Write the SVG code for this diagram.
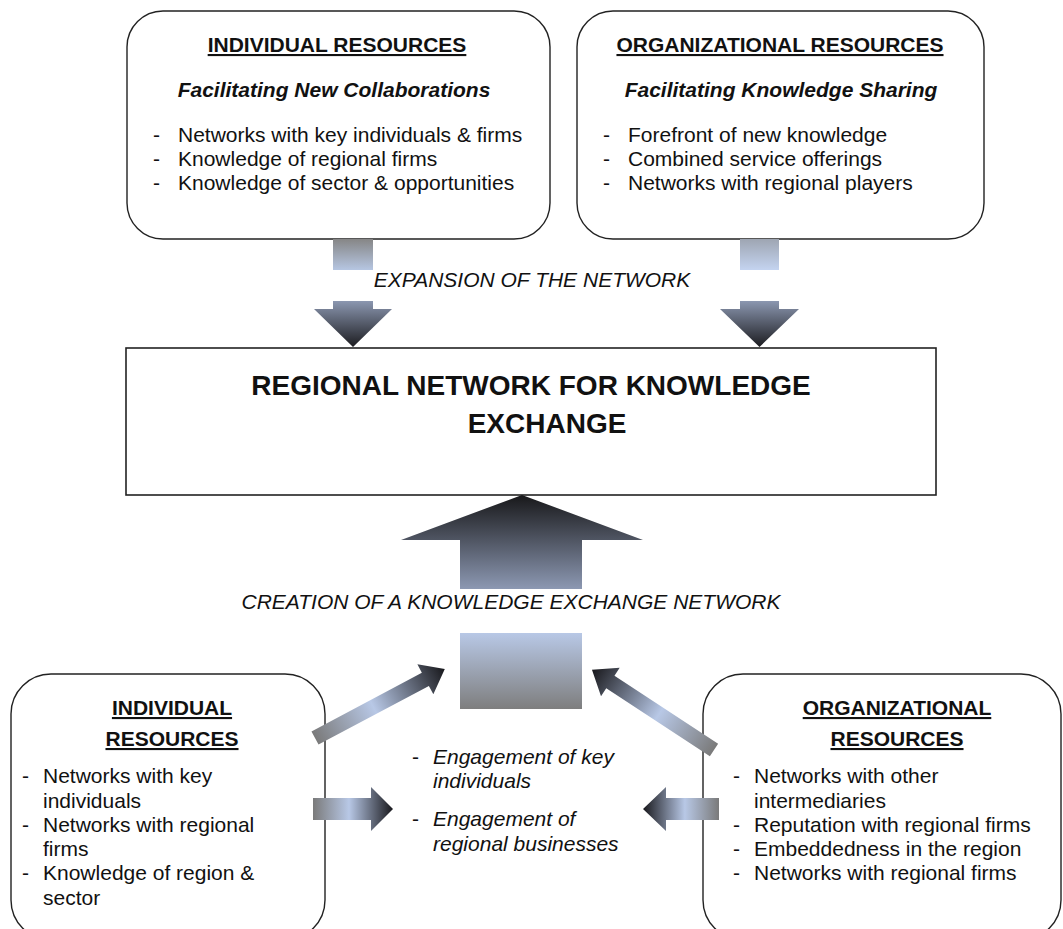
<svg xmlns="http://www.w3.org/2000/svg" width="1063" height="929" viewBox="0 0 1063 929">
<style>
.box{fill:#fff;stroke:#222;stroke-width:1.4}
.t{font-family:"Liberation Sans",Arial,sans-serif;font-size:21px;fill:#111}
.h{font-weight:bold;text-decoration:underline;text-anchor:middle}
.s{font-weight:bold;font-style:italic;text-anchor:middle}
.i{font-style:italic}
.m{text-anchor:middle}
.big{font-family:"Liberation Sans",Arial,sans-serif;font-size:28px;font-weight:bold;fill:#111;text-anchor:middle}
</style>
<defs>
<linearGradient id="stubL" x1="0" y1="0" x2="0" y2="1"><stop offset="0" stop-color="#868686"/><stop offset="1" stop-color="#b6c6e2"/></linearGradient>
<linearGradient id="stubR" x1="0" y1="0" x2="0" y2="1"><stop offset="0" stop-color="#9ea5b2"/><stop offset="1" stop-color="#c4d4f0"/></linearGradient>
<linearGradient id="headDown" x1="0" y1="0" x2="0" y2="1"><stop offset="0" stop-color="#8b97b0"/><stop offset="1" stop-color="#1c1c20"/></linearGradient>
<linearGradient id="bigUp" x1="0" y1="0" x2="0" y2="1"><stop offset="0" stop-color="#18181a"/><stop offset="1" stop-color="#8c98b2"/></linearGradient>
<linearGradient id="rectG" x1="0" y1="0" x2="0" y2="1"><stop offset="0" stop-color="#b8c8e6"/><stop offset="1" stop-color="#7e7e7e"/></linearGradient>
<linearGradient id="arrR" x1="0" y1="0" x2="1" y2="0"><stop offset="0" stop-color="#7a7a7a"/><stop offset="0.45" stop-color="#b8c8e6"/><stop offset="1" stop-color="#18181c"/></linearGradient>
<linearGradient id="arrL" x1="1" y1="0" x2="0" y2="0"><stop offset="0" stop-color="#7a7a7a"/><stop offset="0.45" stop-color="#b8c8e6"/><stop offset="1" stop-color="#18181c"/></linearGradient>
</defs>
<rect width="1063" height="929" fill="#fff"/>

<g id="node-top-individual">
<rect class="box" x="127" y="11" width="423" height="228" rx="36"/>
<text class="t h" x="337" y="52">INDIVIDUAL RESOURCES</text>
<text class="t s" x="334" y="97">Facilitating New Collaborations</text>
<text class="t" x="153" y="142">-</text><text class="t" x="178" y="142">Networks with key individuals &amp; firms</text>
<text class="t" x="153" y="166">-</text><text class="t" x="178" y="166">Knowledge of regional firms</text>
<text class="t" x="153" y="190">-</text><text class="t" x="178" y="190">Knowledge of sector &amp; opportunities</text>
</g>

<g id="node-top-organizational">
<rect class="box" x="577" y="11" width="407" height="228" rx="36"/>
<text class="t h" x="780" y="52">ORGANIZATIONAL RESOURCES</text>
<text class="t s" x="781" y="97">Facilitating Knowledge Sharing</text>
<text class="t" x="603" y="142">-</text><text class="t" x="628" y="142">Forefront of new knowledge</text>
<text class="t" x="603" y="166">-</text><text class="t" x="628" y="166">Combined service offerings</text>
<text class="t" x="603" y="190">-</text><text class="t" x="628" y="190">Networks with regional players</text>
</g>

<g id="node-main">
<rect x="126" y="348" width="810" height="147" fill="#fff" stroke="#222" stroke-width="1.6"/>
<text class="big" x="531" y="395">REGIONAL NETWORK FOR KNOWLEDGE</text>
<text class="big" x="547" y="433">EXCHANGE</text>
</g>

<g id="node-hub">
<rect x="460" y="633" width="122" height="76" fill="url(#rectG)"/>
</g>

<g id="node-bottom-individual">
<rect class="box" x="11" y="674" width="314" height="266" rx="40"/>
<text class="t h" x="172" y="715">INDIVIDUAL</text>
<text class="t h" x="172" y="746">RESOURCES</text>
<text class="t" x="22" y="783">-</text><text class="t" x="43" y="783">Networks with key</text>
<text class="t" x="43" y="808">individuals</text>
<text class="t" x="22" y="832">-</text><text class="t" x="43" y="832">Networks with regional</text>
<text class="t" x="43" y="856">firms</text>
<text class="t" x="22" y="880">-</text><text class="t" x="43" y="880">Knowledge of region &amp;</text>
<text class="t" x="43" y="905">sector</text>
</g>

<g id="node-bottom-organizational">
<rect class="box" x="703" y="674" width="358" height="266" rx="40"/>
<text class="t h" x="897" y="715">ORGANIZATIONAL</text>
<text class="t h" x="897" y="746">RESOURCES</text>
<text class="t" x="733" y="783">-</text><text class="t" x="754" y="783">Networks with other</text>
<text class="t" x="754" y="808">intermediaries</text>
<text class="t" x="733" y="832">-</text><text class="t" x="754" y="832">Reputation with regional firms</text>
<text class="t" x="733" y="856">-</text><text class="t" x="754" y="856">Embeddedness in the region</text>
<text class="t" x="733" y="880">-</text><text class="t" x="754" y="880">Networks with regional firms</text>
</g>

<g id="node-engagement">
<text class="t" x="412" y="764">-</text><text class="t i" x="433" y="764">Engagement of key</text>
<text class="t i" x="433" y="788">individuals</text>
<text class="t" x="412" y="826">-</text><text class="t i" x="433" y="826">Engagement of</text>
<text class="t i" x="433" y="851">regional businesses</text>
</g>

<g id="connectors">
<rect x="333" y="239" width="40" height="31" fill="url(#stubL)"/>
<path d="M333,301 L373,301 L373,309 L392,309 L353,347 L314,309 L333,309 Z" fill="url(#headDown)"/>
<rect x="740" y="239" width="39" height="31" fill="url(#stubR)"/>
<path d="M740,301 L779,301 L779,309 L799,309 L759.5,347 L720,309 L740,309 Z" fill="url(#headDown)"/>
<text class="t i m" x="532" y="287">EXPANSION OF THE NETWORK</text>
<path d="M460,589 L460,540 L401,540 L522,495 L643,540 L582,540 L582,589 Z" fill="url(#bigUp)"/>
<text class="t i m" x="511" y="609">CREATION OF A KNOWLEDGE EXCHANGE NETWORK</text>
<path transform="translate(315,738) rotate(-28)" d="M0,-7.5 L125,-7.5 L125,-17 L147,0 L125,17 L125,7.5 L0,7.5 Z" fill="url(#arrR)"/>
<path transform="translate(714,750) rotate(-146.7)" d="M0,-7.5 L124,-7.5 L124,-17 L146,0 L124,17 L124,7.5 L0,7.5 Z" fill="url(#arrR)"/>
<path d="M313,798 L371,798 L371,787 L393,809 L371,831 L371,820 L313,820 Z" fill="url(#arrR)"/>
<path d="M719,798 L666,798 L666,787 L643,809 L666,831 L666,820 L719,820 Z" fill="url(#arrL)"/>
</g>
</svg>
